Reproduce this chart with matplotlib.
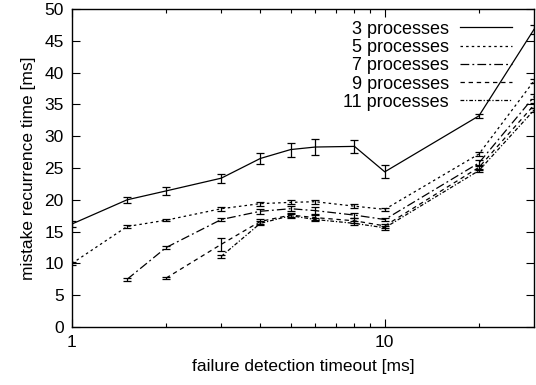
import matplotlib
matplotlib.use('Agg')
import matplotlib.pyplot as plt
from matplotlib.ticker import FixedLocator, NullFormatter

plt.rcParams['font.family'] = ['Liberation Sans', 'DejaVu Sans']
plt.rcParams['font.size'] = 12.5

# timeouts [ms]
x_all = [1, 1.5, 2, 3, 4, 5, 6, 8, 10, 20, 30]

# 3 processes
x3 = x_all
y3 = [16.2, 20.0, 21.4, 23.4, 26.5, 27.9, 28.3, 28.4, 24.4, 33.2, 46.8]
e3 = [0.4, 0.5, 0.6, 0.7, 0.9, 1.1, 1.3, 1.0, 1.0, 0.3, 0.7]

# 5 processes
x5 = x_all
y5 = [10.0, 15.8, 16.8, 18.6, 19.4, 19.6, 19.7, 19.0, 18.5, 27.2, 38.7]
e5 = [0.2, 0.2, 0.2, 0.3, 0.3, 0.3, 0.3, 0.3, 0.2, 0.3, 0.3]

# 7 processes
x7 = x_all[1:]
y7 = [7.5, 12.5, 16.9, 18.2, 18.6, 18.3, 17.6, 16.9, 25.8, 36.2]
e7 = [0.2, 0.3, 0.3, 0.4, 0.4, 0.5, 0.4, 0.3, 0.5, 0.4]

# 9 processes
x9 = x_all[2:]
y9 = [7.7, 13.0, 16.6, 17.6, 17.2, 16.7, 15.9, 25.1, 34.9]
e9 = [0.2, 1.0, 0.4, 0.3, 0.4, 0.4, 0.3, 0.4, 0.4]

# 11 processes
x11 = x_all[3:]
y11 = [11.1, 16.3, 17.5, 16.9, 16.3, 15.6, 24.6, 34.1]
e11 = [0.3, 0.3, 0.3, 0.3, 0.3, 0.3, 0.3, 0.3]

series = [
    ('3 processes', x3, y3, e3, '-'),
    ('5 processes', x5, y5, e5, (0, (2, 2.5))),
    ('7 processes', x7, y7, e7, (0, (7, 2.5, 1.5, 2.5))),
    ('9 processes', x9, y9, e9, (0, (3.5, 3))),
    ('11 processes', x11, y11, e11, (0, (3, 1.5, 1, 1.5))),
]

fig = plt.figure(figsize=(5.36, 3.85), dpi=100)
ax = fig.add_axes([0.1343, 0.1506, 0.862, 0.826])

for label, xs, ys, es, ls in series:
    ax.errorbar(xs, ys, yerr=es, color='black', linestyle=ls, linewidth=0.9,
                elinewidth=0.9, capsize=3, capthick=0.9, label=label)

ax.set_xscale('log')
ax.set_xlim(1, 30)
ax.set_ylim(0, 50)
ax.xaxis.set_major_locator(FixedLocator([1, 10]))
ax.xaxis.set_major_formatter(plt.FixedFormatter(['1', '10']))
ax.xaxis.set_minor_locator(FixedLocator([2, 3, 4, 5, 6, 7, 8, 9, 20]))
ax.xaxis.set_minor_formatter(NullFormatter())
ax.set_yticks(range(0, 51, 5))

ax.tick_params(which='both', direction='in', top=True, right=True)
ax.tick_params(which='major', length=6, width=0.8, pad=6)
ax.tick_params(which='minor', length=3, width=0.8)
for s in ax.spines.values():
    s.set_linewidth(1.0)

ax.set_xlabel('failure detection timeout [ms]', labelpad=6)
ax.set_ylabel('mistake recurrence time [ms]', labelpad=6)

handles, labels = ax.get_legend_handles_labels()
handles = [h[0] for h in handles]
ax.legend(handles, labels, loc='upper right', frameon=False, markerfirst=False,
          handlelength=2.9, handletextpad=0.6, labelspacing=0.07,
          borderaxespad=0.25, fontsize=13, bbox_to_anchor=(0.978, 1.0))

fig.savefig('out.png', dpi=100)
